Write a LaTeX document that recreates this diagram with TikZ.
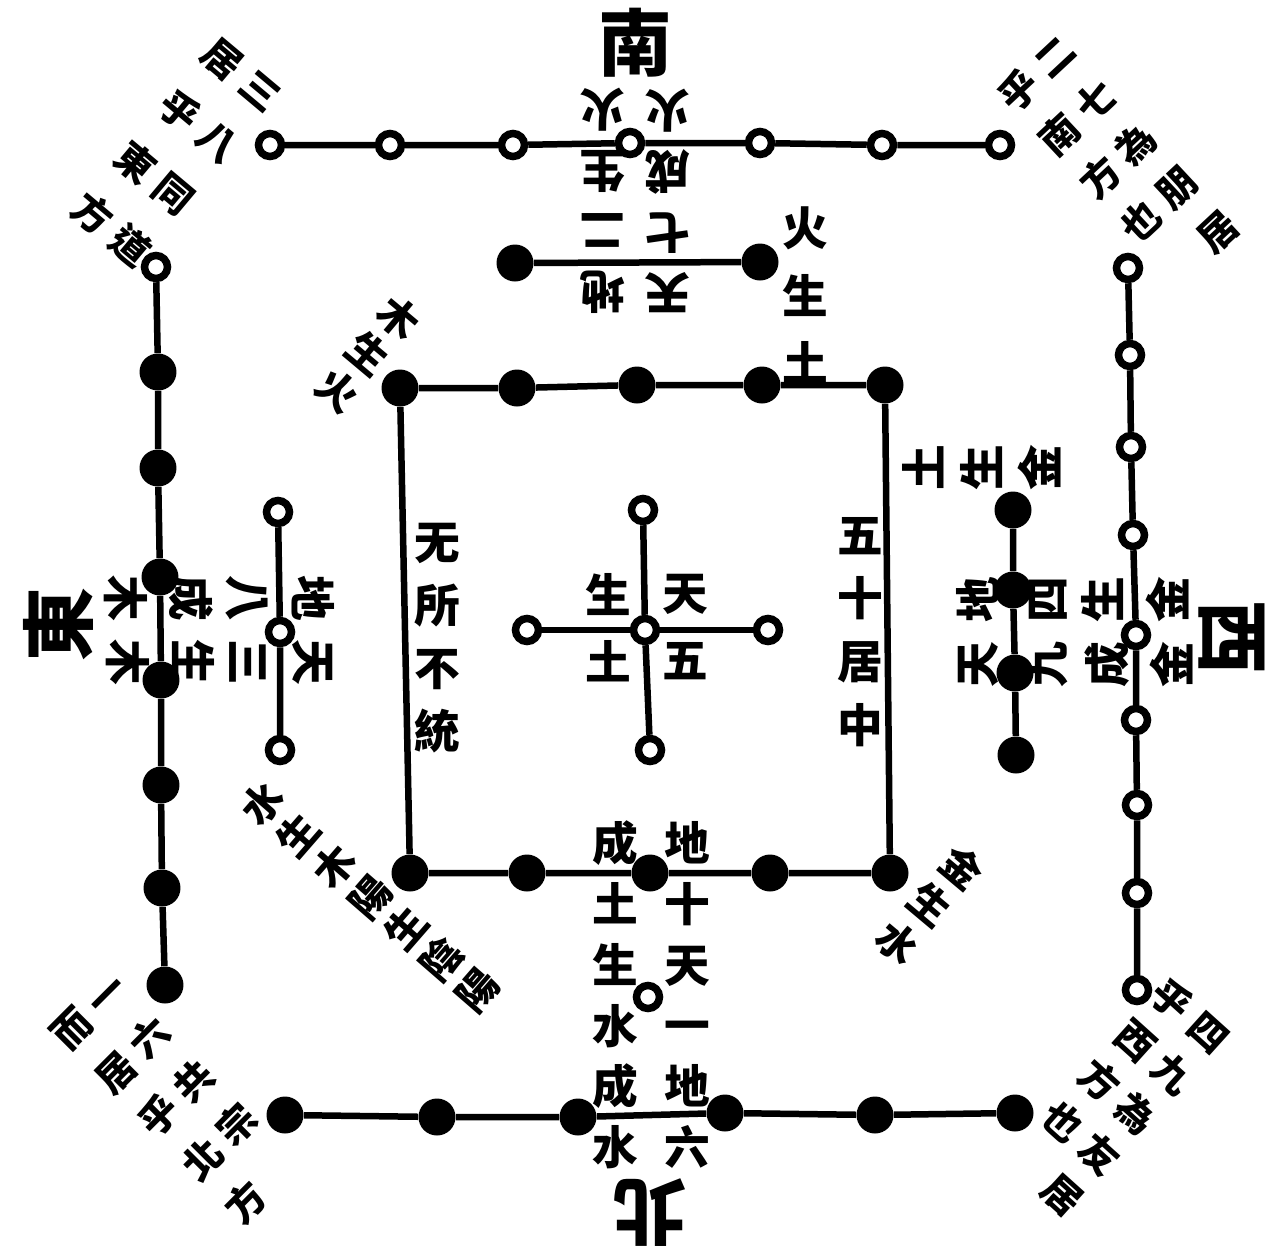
\documentclass[tikz,border=0pt]{standalone}
\usepackage{fontspec}
\newfontfamily\cjk{Noto Sans CJK TC}

\begin{document}
\begin{tikzpicture}[
  x=0.02cm, y=-0.02cm,
  wdot/.style={circle, draw, line width=0.15cm, minimum size=0.46cm, inner sep=0pt},
  bdot/.style={circle, fill, minimum size=0.74cm, inner sep=0pt},
  link/.style={line width=0.13cm},
  glyph/.style={font=\cjk\bfseries\fontsize{26}{#1}\selectfont, align=center, inner sep=0pt},
  smallglyph/.style={font=\cjk\bfseries\fontsize{23}{#1}\selectfont, align=center, inner sep=0pt},
  cornerglyph/.style={font=\cjk\bfseries\fontsize{22}{#1}\selectfont, inner sep=0pt},
  quarter/.style={font=\cjk\bfseries\fontsize{42}{42}\selectfont, inner sep=0pt}
]
\useasboundingbox (0,0) rectangle (1269,1255);

% Outer ring: south, seven white
\node[wdot] (t1) at (270,145) {};
\node[wdot] (t2) at (390,145) {};
\node[wdot] (t3) at (513,145) {};
\node[wdot] (t4) at (630,143) {};
\node[wdot] (t5) at (760,143) {};
\node[wdot] (t6) at (882,145) {};
\node[wdot] (t7) at (1000,145) {};
% Outer ring: west, nine white
\node[wdot] (r1) at (1128,268) {};
\node[wdot] (r2) at (1130,355) {};
\node[wdot] (r3) at (1131,447) {};
\node[wdot] (r4) at (1133,535) {};
\node[wdot] (r5) at (1136,635) {};
\node[wdot] (r6) at (1136,720) {};
\node[wdot] (r7) at (1137,805) {};
\node[wdot] (r8) at (1137,893) {};
\node[wdot] (r9) at (1137,990) {};
% Outer ring: east
\node[wdot] (l0) at (156,267) {};
\node[bdot] (l1) at (158,372) {};
\node[bdot] (l2) at (158,468) {};
\node[bdot] (l3) at (160,577) {};
\node[bdot] (l4) at (161,680) {};
\node[bdot] (l5) at (161,785) {};
\node[bdot] (l6) at (162,888) {};
\node[bdot] (l7) at (165,985) {};
% Outer ring: north, six black
\node[bdot] (b1) at (285,1115) {};
\node[bdot] (b2) at (437,1117) {};
\node[bdot] (b3) at (578,1117) {};
\node[bdot] (b4) at (725,1113) {};
\node[bdot] (b5) at (875,1115) {};
\node[bdot] (b6) at (1015,1113) {};
% Inner square, ten black
\node[bdot] (q1) at (400,388) {};
\node[bdot] (q2) at (517,388) {};
\node[bdot] (q3) at (637,385) {};
\node[bdot] (q4) at (762,385) {};
\node[bdot] (q5) at (885,385) {};
\node[bdot] (p1) at (410,873) {};
\node[bdot] (p2) at (527,873) {};
\node[bdot] (p3) at (650,873) {};
\node[bdot] (p4) at (770,873) {};
\node[bdot] (p5) at (890,873) {};
% Centre, five white
\node[wdot] (c0) at (645,630) {};
\node[wdot] (cn) at (643,510) {};
\node[wdot] (cs) at (650,750) {};
\node[wdot] (cw) at (527,630) {};
\node[wdot] (ce) at (768,630) {};
% East three white, west four black
\node[wdot] (e1) at (278,512) {};
\node[wdot] (e2) at (280,632) {};
\node[wdot] (e3) at (280,750) {};
\node[bdot] (w1) at (1013,510) {};
\node[bdot] (w2) at (1013,590) {};
\node[bdot] (w3) at (1015,673) {};
\node[bdot] (w4) at (1016,755) {};
% South two black, north one white
\node[bdot] (n1) at (515,263) {};
\node[bdot] (n2) at (760,262) {};
\node[wdot] (o1) at (648,997) {};

% Lines
\draw[link] (t1) -- (t2) -- (t3) -- (t4) -- (t5) -- (t6) -- (t7);
\draw[link] (r1) -- (r2) -- (r3) -- (r4) -- (r5) -- (r6) -- (r7) -- (r8) -- (r9);
\draw[link] (l0) -- (l1) -- (l2) -- (l3) -- (l4) -- (l5) -- (l6) -- (l7);
\draw[link] (b1) -- (b2) -- (b3) -- (b4) -- (b5) -- (b6);
\draw[link] (q1) -- (q2) -- (q3) -- (q4) -- (q5) -- (p5) -- (p4) -- (p3) -- (p2) -- (p1) -- (q1);
\draw[link] (cw) -- (c0) -- (ce);
\draw[link] (cn) -- (c0) -- (cs);
\draw[link] (e1) -- (e2) -- (e3);
\draw[link] (w1) -- (w2) -- (w3) -- (w4);
\draw[link] (n1) -- (n2);

% Quarters
\node[quarter] (south) at (635,43) {南};
\node[quarter, rotate=180] (north) at (650,1213) {北};
\node[quarter, rotate=90] (east) at (58,625) {東};
\node[quarter, rotate=-90] (west) at (1232,637) {西};

% South texts
\node[glyph=34.6, rotate=180] (sA) at (603,201) {地\\二\\生\\火};
\node[glyph=34.6, rotate=180] (sB) at (668,201) {天\\七\\成\\火};
\node[glyph=38.5] (fire) at (805,295) {火\\生\\土};
% North texts
\node[glyph=34.6] (nA) at (687,995) {地\\十\\天\\一\\地\\六};
\node[glyph=34.6] (nB) at (615,995) {成\\土\\生\\水\\成\\水};
% East texts
\node[glyph=37, rotate=-90] (eA) at (281,662) {天\\三};
\node[glyph=37, rotate=-90] (eB) at (160,662) {生\\木};
\node[glyph=37, rotate=-90] (eC) at (280,598) {地\\八};
\node[glyph=37, rotate=-90] (eD) at (159,598) {成\\木};
% West texts
\node[glyph=39, rotate=90] (wA) at (1012,600) {地\\四};
\node[glyph=37, rotate=90] (wB) at (1135,600) {生\\金};
\node[glyph=39, rotate=90] (wC) at (1013,665) {天\\九};
\node[glyph=37, rotate=90] (wD) at (1139,665) {成\\金};
\node[glyph=33, rotate=90] (metal) at (982,468) {土\\生\\金};
% Centre texts
\node[glyph=36] (inL) at (437,638) {无\\所\\不\\統};
\node[glyph=36] (inR) at (860,632) {五\\十\\居\\中};
\node[glyph=38] (cA) at (685,627) {天\\五};
\node[glyph=38] (cB) at (608,628) {生\\土};
% Inner corners
\node[smallglyph=27, rotate=-40] (wood) at (368,354) {木\\生\\火};
\node[smallglyph=28, rotate=-40] (water) at (930,905) {金\\生\\水};
\node[smallglyph=27, rotate=49] (sprout) at (370,897) {水\\生\\木\\陽\\生\\陰\\陽};
% Outer corners
\node[cornerglyph=38.5, rotate=-40] (tl) at (176,153) {\begin{tabular}{@{}c@{\hspace{6pt}}c@{}}居&三\\乎&八\\東&同\\方&道\end{tabular}};
\node[cornerglyph=34, rotate=43] (tr) at (1120,163) {\begin{tabular}{@{}c@{\hspace{6pt}}c@{}}乎&二\\南&七\\方&為\\也&朋\\&居\end{tabular}};
\node[cornerglyph=35, rotate=45] (bl) at (178,1100) {\begin{tabular}{@{}c@{\hspace{6pt}}c@{}}而&一\\居&六\\乎&共\\北&宗\\方&\end{tabular}};
\node[cornerglyph=31, rotate=-42] (br) at (1115,1100) {\begin{tabular}{@{}c@{\hspace{6pt}}c@{}}乎&四\\西&九\\方&為\\也&友\\&居\end{tabular}};
\end{tikzpicture}
\end{document}
